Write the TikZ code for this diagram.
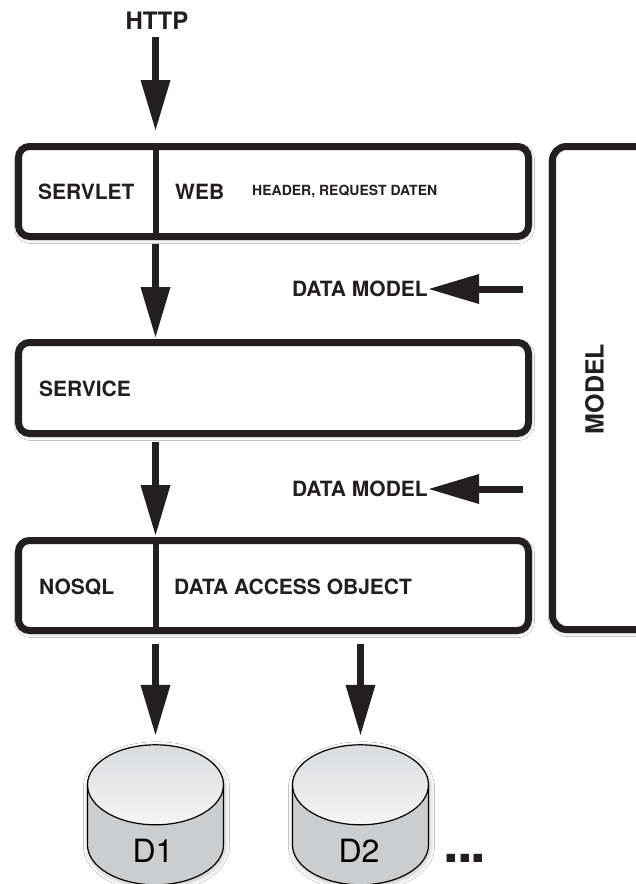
\documentclass[tikz,border=0pt]{standalone}
\usepackage{fontspec}
\setmainfont{TeX Gyre Heros}
\usetikzlibrary{arrows.meta,shadows.blur}
\definecolor{ink}{RGB}{35,31,32}
\definecolor{dbbody}{RGB}{204,205,207}
\definecolor{dbtop}{RGB}{218,219,221}

\begin{document}
\begin{tikzpicture}[x=1pt,y=1pt,
  softshadow/.style={blur shadow={shadow xshift=1pt, shadow yshift=-2pt,
      shadow blur radius=5pt, shadow blur steps=8, shadow opacity=28}},
  layer/.style={draw=ink, line width=7pt, rounded corners=11pt, fill=white,
      inner sep=0pt, softshadow},
  lbl/.style={font=\fontsize{21}{21}\selectfont\bfseries, text=ink, inner sep=0pt},
  small/.style={font=\fontsize{14}{14}\selectfont\bfseries, text=ink, inner sep=0pt},
  bigarrow/.style={draw=ink, line width=7pt,
      -{Triangle[length=50pt,width=30pt,line width=0pt]}},
  divider/.style={draw=ink, line width=6pt},
  dbline/.style={draw=black, line width=1.2pt},
  dbslot/.style={minimum width=136pt, minimum height=140pt, inner sep=0pt},
  dblabel/.style={font=\fontsize{32}{32}\selectfont, text=black, inner sep=0pt}]

\fill[white] (0,0) rectangle (636,-884);
\useasboundingbox (0,0) rectangle (636,-884);

% column of the left-hand arrows and dividers
\coordinate (col) at (155.5,0);

% layers
\node[layer, minimum width=510pt, minimum height=90pt] (web) at (273.5,-191.5) {};
\node[layer, minimum width=510pt, minimum height=91pt] (service) at (273.5,-388) {};
\node[layer, minimum width=510pt, minimum height=90pt] (dao) at (273.5,-585.5) {};
\node[layer, minimum width=144pt, minimum height=483pt, rounded corners=14pt] (model) at (624.5,-388) {};

\draw[divider] (web.north -| col) -- (web.south -| col);
\draw[divider] (dao.north -| col) -- (dao.south -| col);

% labels
\node[lbl, font=\fontsize{24}{24}\selectfont\bfseries] (http) at (157,-20.5) {HTTP};
\node[lbl, anchor=west] (servlet) at (38,-192) {SERVLET};
\node[lbl, anchor=west] (weblbl) at (175,-192) {WEB};
\node[small, anchor=west] (header) at (252,-192) {HEADER, REQUEST DATEN};
\node[lbl, anchor=west] (servicelbl) at (39,-389) {SERVICE};
\node[lbl, anchor=west] (nosql) at (39,-587) {NOSQL};
\node[lbl, anchor=west] (daolbl) at (174,-587) {DATA ACCESS OBJECT};
\node[lbl, anchor=east] (dm1) at (428,-289) {DATA MODEL};
\node[lbl, anchor=east] (dm2) at (428,-489) {DATA MODEL};
\node[lbl, font=\fontsize{25}{25}\selectfont\bfseries, rotate=90] (modellbl) at (594.5,-389) {MODEL};

% databases
\node[dbslot] (db1) at (155.5,-815) {};
\node[dbslot] (db2) at (360.5,-815) {};
\foreach \d in {db1,db2}{
  \begin{scope}[shift={(\d.north)}]
    \fill[dbbody, softshadow] (-68,-40) arc[start angle=180, end angle=0, x radius=68pt, y radius=40pt]
      -- (68,-100) arc[start angle=0, end angle=-180, x radius=68pt, y radius=40pt] -- cycle;
    \shade[top color=dbtop, bottom color=white!96!black] (0,-40) ellipse[x radius=68pt, y radius=40pt];
    \draw[dbline] (-68,-40) -- (-68,-100) arc[start angle=180, end angle=360, x radius=68pt, y radius=40pt] -- (68,-40);
    \draw[dbline] (0,-40) ellipse[x radius=68pt, y radius=40pt];
  \end{scope}
}
\node[dblabel] (d1) at (153,-851) {D1};
\node[dblabel] (d2) at (359,-851) {D2};
\node[inner sep=0pt, text=ink, font=\fontsize{56}{56}\selectfont\bfseries] (more) at (465,-858) {.\kern-2pt.\kern-2pt.};

% connectors
\coordinate (src1) at (523,-289);
\coordinate (src2) at (523,-489);
\draw[bigarrow, shorten <=8pt, shorten >=13pt] (http.south -| col) -- (web.north -| col);
\draw[bigarrow, shorten <=4pt, shorten >=2pt] (web.south -| col) -- (service.north -| col);
\draw[bigarrow, shorten <=5pt, shorten >=2pt] (service.south -| col) -- (dao.north -| col);
\draw[bigarrow, shorten <=10pt, shorten >=10pt] (dao.south -| db1.north) -- (db1.north);
\draw[bigarrow, shorten <=10pt, shorten >=10pt] (dao.south -| db2.north) -- (db2.north);
\draw[bigarrow, shorten >=1pt] (src1) -- (dm1.east);
\draw[bigarrow, shorten >=1pt] (src2) -- (dm2.east);
\end{tikzpicture}
\end{document}
